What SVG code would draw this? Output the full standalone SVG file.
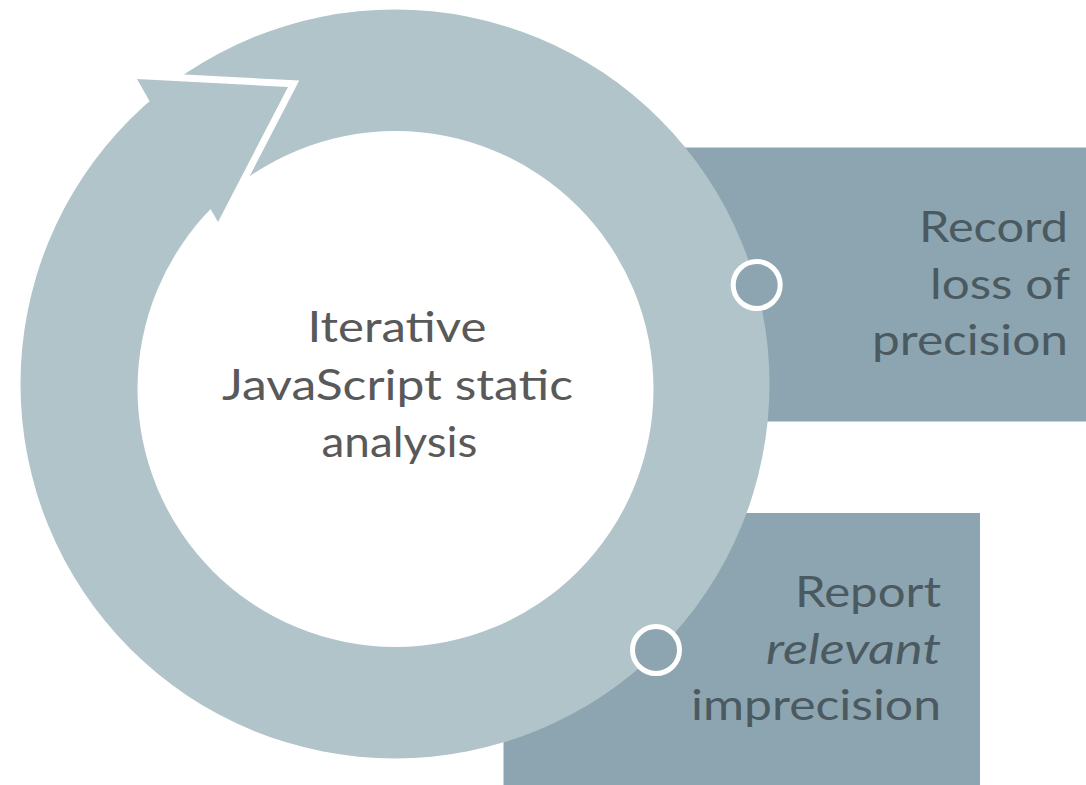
<svg xmlns="http://www.w3.org/2000/svg" width="1086" height="785" viewBox="0 0 1086 785">
<style>
.box{fill:#8DA5B0}
.ring{fill:#B0C4CA}
.dot{fill:#8DA5B0;stroke:#FFFFFF;stroke-width:5}
.lbl{font-family:Lato,"Open Sans","Liberation Sans",sans-serif;font-size:43px;fill:#4A5A60}
.ctr{font-family:Lato,"Open Sans","Liberation Sans",sans-serif;font-size:43px;fill:#595959}
</style>
<rect width="1086" height="785" fill="#FFFFFF"/>
<g id="record">
<rect class="box" x="600" y="147.5" width="486" height="274"/>
<text class="lbl" text-anchor="end" x="1068" y="242" textLength="149" lengthAdjust="spacingAndGlyphs">Record</text>
<text class="lbl" text-anchor="end" x="1070" y="298.5" textLength="140" lengthAdjust="spacingAndGlyphs">loss of</text>
<text class="lbl" text-anchor="end" x="1068" y="355" textLength="196" lengthAdjust="spacingAndGlyphs">precision</text>
</g>
<g id="report">
<rect class="box" x="503.5" y="513" width="476.5" height="272"/>
<text class="lbl" text-anchor="end" x="941" y="607" textLength="146" lengthAdjust="spacingAndGlyphs">Report</text>
<text class="lbl" text-anchor="end" x="941" y="663.5" textLength="175" lengthAdjust="spacingAndGlyphs" font-style="italic">relevant</text>
<text class="lbl" text-anchor="end" x="941" y="720" textLength="250" lengthAdjust="spacingAndGlyphs">imprecision</text>
</g>
<g id="cycle">
<circle class="ring" cx="395" cy="384" r="374.5"/>
<circle cx="395.5" cy="389" r="258" fill="#FFFFFF"/>
<polyline points="137,79 288,87 218,222" fill="none" stroke="#FFFFFF" stroke-width="14" stroke-linejoin="miter"/>
<polygon class="ring" points="137,79 288,87 218,222"/>
<text class="ctr" text-anchor="middle" x="397" y="342" textLength="179" lengthAdjust="spacingAndGlyphs">Iterative</text>
<text class="ctr" text-anchor="middle" x="397.5" y="399.5" textLength="351" lengthAdjust="spacingAndGlyphs">JavaScript static</text>
<text class="ctr" text-anchor="middle" x="399.5" y="457" textLength="156" lengthAdjust="spacingAndGlyphs">analysis</text>
</g>
<g id="connectors">
<circle class="dot" cx="756.7" cy="285" r="23.5"/>
<circle class="dot" cx="656" cy="650" r="23.5"/>
</g>
</svg>
